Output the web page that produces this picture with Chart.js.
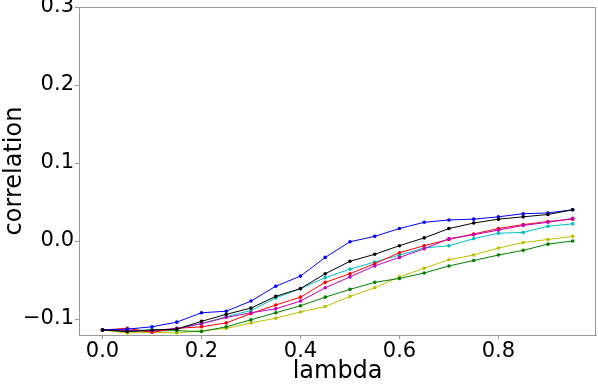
<!DOCTYPE html>
<html><head><meta charset="utf-8">
<script src="https://cdn.jsdelivr.net/npm/chart.js@4"></script>
<style>html,body{margin:0;padding:0;background:#fff}#w{width:598px;height:386px}</style>
</head><body><div id="w"><canvas id="c" width="598" height="386"></canvas></div>
<script>
const lambdas = [0,0.05,0.1,0.15,0.2,0.25,0.3,0.35,0.4,0.45,0.5,0.55,0.6,0.65,0.7,0.75,0.8,0.85,0.9,0.95];
const blue    = [-0.114,-0.113,-0.110,-0.104,-0.092,-0.090,-0.077,-0.058,-0.045,-0.021,-0.001,0.006,0.016,0.024,0.027,0.028,0.031,0.035,0.036,0.040];
const black   = [-0.114,-0.116,-0.114,-0.113,-0.103,-0.094,-0.086,-0.071,-0.061,-0.042,-0.026,-0.017,-0.006,0.004,0.016,0.023,0.028,0.031,0.034,0.040];
const red     = [-0.114,-0.112,-0.117,-0.112,-0.110,-0.105,-0.093,-0.082,-0.072,-0.053,-0.042,-0.029,-0.015,-0.006,0.002,0.009,0.016,0.021,0.025,0.028];
const magenta = [-0.114,-0.115,-0.115,-0.112,-0.106,-0.098,-0.092,-0.087,-0.077,-0.060,-0.046,-0.032,-0.021,-0.010,0.003,0.008,0.014,0.020,0.024,0.029];
const cyan    = [-0.114,-0.115,-0.114,-0.113,-0.106,-0.097,-0.089,-0.073,-0.061,-0.047,-0.036,-0.027,-0.018,-0.009,-0.006,0.003,0.010,0.011,0.019,0.022];
const yellow  = [-0.114,-0.118,-0.117,-0.118,-0.115,-0.112,-0.105,-0.099,-0.091,-0.084,-0.071,-0.060,-0.046,-0.035,-0.024,-0.018,-0.009,-0.002,0.002,0.006];
const green   = [-0.114,-0.116,-0.115,-0.115,-0.116,-0.110,-0.101,-0.092,-0.083,-0.072,-0.062,-0.053,-0.048,-0.041,-0.032,-0.025,-0.018,-0.012,-0.004,0.000];
const xTicks = [0,0.2,0.4,0.6,0.8];
const yTicks = [-0.1,0,0.1,0.2,0.3];

const series = [
  {name:'black', data:black, color:'#000000'},
  {name:'blue', data:blue, color:'#0000ff'},
  {name:'magenta', data:magenta, color:'#bf00bf'},
  {name:'red', data:red, color:'#ff0000'},
  {name:'cyan', data:cyan, color:'#00bfbf'},
  {name:'green', data:green, color:'#008000'},
  {name:'yellow', data:yellow, color:'#bfbf00'}
];
const fmt = v => v.toFixed(1).replace('-', '\u2212');
const frame = {id:'frame', afterDraw(ch){const a=ch.chartArea,c=ch.ctx;c.save();c.strokeStyle='#999';c.lineWidth=1;c.strokeRect(Math.round(a.left)+0.5,Math.round(a.top)+0.5,Math.round(a.right-a.left)-1,Math.round(a.bottom-a.top));c.restore();}};
new Chart(document.getElementById('c'), {
  type:'line',
  data:{datasets: series.map(s=>({label:s.name, data:lambdas.map((x,i)=>({x, y:s.data[i]})), borderColor:s.color, backgroundColor:s.color, borderWidth:1, pointRadius:1.8, pointHoverRadius:1.8, pointBorderWidth:0, tension:0}))},
  options:{
    responsive:false, animation:false, events:[],
    layout:{padding:{top:7,right:1,left:0,bottom:0}},
    plugins:{legend:{display:false}, tooltip:{enabled:false}},
    scales:{
      x:{type:'linear', min:-0.0475, max:0.9975,
        afterBuildTicks(s){s.ticks = xTicks.map(v=>({value:v}));},
        afterFit(s){s.height=51; s.paddingLeft=0; s.paddingRight=0;},
        ticks:{callback:v=>fmt(v), font:{family:'DejaVu Sans', size:21}, color:'#000', padding:0, maxRotation:0, autoSkip:false},
        grid:{drawOnChartArea:false, drawTicks:true, tickLength:4, color:'#999'},
        border:{color:'#999'},
        title:{display:true, text:'lambda', font:{family:'DejaVu Sans', size:24}, color:'#000', padding:{top:-4,bottom:0}}
      },
      y:{type:'linear', min:-0.1205, max:0.3,
        afterBuildTicks(s){s.ticks = yTicks.map(v=>({value:v}));},
        afterFit(s){s.width=79; s.paddingTop=0; s.paddingBottom=0;},
        ticks:{callback:v=>fmt(v), font:{family:'DejaVu Sans', size:21}, color:'#000', padding:1, autoSkip:false},
        grid:{drawOnChartArea:false, drawTicks:true, tickLength:4, color:'#999'},
        border:{color:'#999'},
        title:{display:true, text:'correlation', font:{family:'DejaVu Sans', size:24}, color:'#000', padding:{top:0,bottom:2}}
      }
    }
  },
  plugins:[frame]
});
</script></body></html>
